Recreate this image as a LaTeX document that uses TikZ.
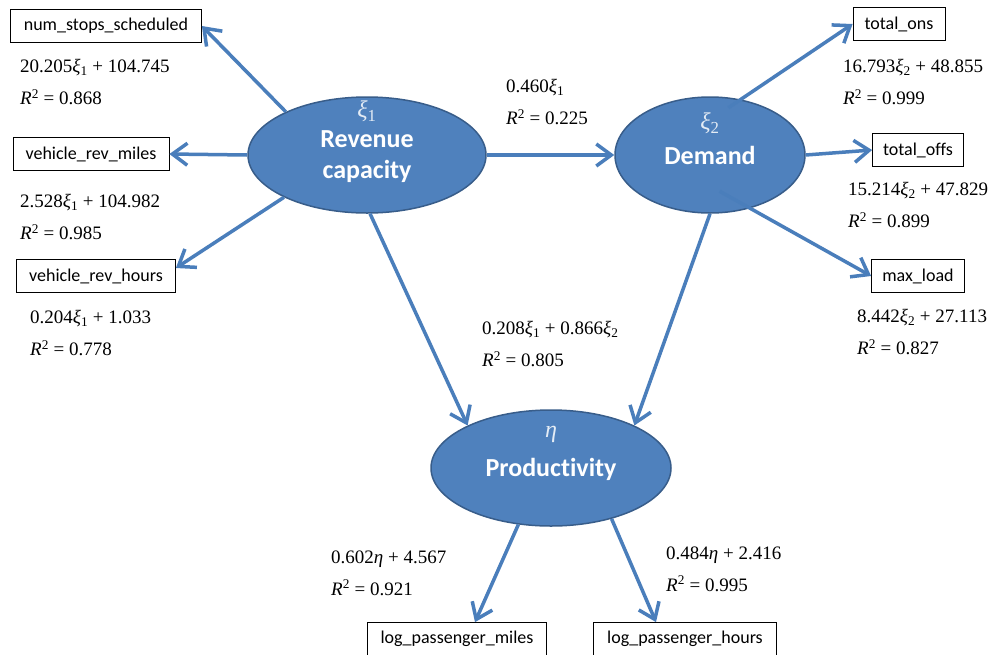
\documentclass[tikz,border=0pt]{standalone}
\usepackage{fontspec}
\setmainfont{Carlito}[Ligatures=NoCommon]
\newfontfamily\eqfont{Liberation Serif}
\usepackage{tikz}
\usetikzlibrary{arrows.meta}
\usetikzlibrary{shapes.geometric}
\definecolor{latfill}{HTML}{4F81BD}
\definecolor{latline}{HTML}{385D8A}
\definecolor{pathcol}{HTML}{4A7EBB}
\newcommand{\xis}[1]{\textit{ξ}\textsubscript{#1}}
\newcommand{\rsq}{\textit{R}\textsuperscript{2}}

\begin{document}
\begin{tikzpicture}[x=1pt,y=-1pt,
  latent/.style={ellipse,draw=latline,line width=1.5pt,fill=latfill,minimum height=116pt,inner sep=0pt},
  latlab/.style={text=white,font=\bfseries\fontsize{26}{31}\selectfont,align=center,inner sep=0pt},
  latsym/.style={text=white!85!latfill,font=\eqfont\fontsize{24}{28}\selectfont,inner sep=0pt},
  manifest/.style={draw=black,line width=0.8pt,fill=white,minimum height=33pt,inner sep=0pt,font=\fontsize{18}{21}\selectfont},
  eqn/.style={anchor=west,align=left,inner sep=0pt,font=\eqfont\fontsize{19}{32}\selectfont},
  load/.style={draw=pathcol,line width=3.5pt,-{Straight Barb[length=15pt,width=22pt]}}]
\path[fill=white,use as bounding box] (0,0) rectangle (997,654);

\node[latent,minimum width=238pt] (rev) at (367,155) {};
\node[latent,minimum width=190pt] (dem) at (710,155) {};
\node[latent,minimum width=240pt] (prod) at (551,468) {};
\node[latsym] (revsym) at (367,111) {\xis{1}};
\node[latlab] (revlab) at (367,157) {Revenue\\capacity};
\node[latsym] (demsym) at (710,123) {\xis{2}};
\node[latlab] (demlab) at (710,155) {Demand};
\node[latsym] (prodsym) at (551,434) {\textit{η}};
\node[latlab] (prodlab) at (551,469) {Productivity};

\node[manifest,minimum width=191pt] (nss) at (106,26) {num\_stops\_scheduled};
\node[manifest,minimum width=156pt] (vrm) at (91,154) {vehicle\_rev\_miles};
\node[manifest,minimum width=159pt] (vrh) at (96,276) {vehicle\_rev\_hours};
\node[manifest,minimum width=92pt] (tons) at (899,24) {total\_ons};
\node[manifest,minimum width=91pt] (toffs) at (918,150) {total\_offs};
\node[manifest,minimum width=93pt] (mload) at (918,276) {max\_load};
\node[manifest,minimum width=179pt] (lpm) at (457,639) {log\_passenger\_miles};
\node[manifest,minimum width=183pt] (lph) at (685,639) {log\_passenger\_hours};

\node[eqn] (eqnss) at (20,82) {20.205\xis{1} + 104.745\\\rsq{} = 0.868};
\node[eqn] (eqvrm) at (20,217) {2.528\xis{1} + 104.982\\\rsq{} = 0.985};
\node[eqn] (eqvrh) at (30,333) {0.204\xis{1} + 1.033\\\rsq{} = 0.778};
\node[eqn] (eqdem) at (506,102) {0.460\xis{1}\\\rsq{} = 0.225};
\node[eqn] (eqtons) at (843,82) {16.793\xis{2} + 48.855\\\rsq{} = 0.999};
\node[eqn] (eqtoffs) at (848,205) {15.214\xis{2} + 47.829\\\rsq{} = 0.899};
\node[eqn] (eqmload) at (857,332) {8.442\xis{2} + 27.113\\\rsq{} = 0.827};
\node[eqn] (eqprod) at (482,344) {0.208\xis{1} + 0.866\xis{2}\\\rsq{} = 0.805};
\node[eqn] (eqlpm) at (331,573) {0.602\textit{η} + 4.567\\\rsq{} = 0.921};
\node[eqn] (eqlph) at (666,569) {0.484\textit{η} + 2.416\\\rsq{} = 0.995};

\draw[load] (rev.152) -- (nss.east);
\draw[load] (rev.west) -- (vrm.east);
\draw[load] (rev.207) -- ([yshift=8pt]vrh.east);
\draw[load] (rev.east) -- (dem.west);
\draw[load] (rev.-87) -- (prod.153);
\draw[load,shorten <=-15pt] (dem.61) -- (tons.west);
\draw[load] (dem.east) -- (toffs.west);
\draw[load,shorten <=-35pt] (dem.-53) -- (mload.west);
\draw[load] (dem.south) -- (prod.27);
\draw[load] (prod.240) -- ([xshift=18pt]lpm.north);
\draw[load] (prod.-40) -- ([xshift=-29pt]lph.north);
\end{tikzpicture}
\end{document}
